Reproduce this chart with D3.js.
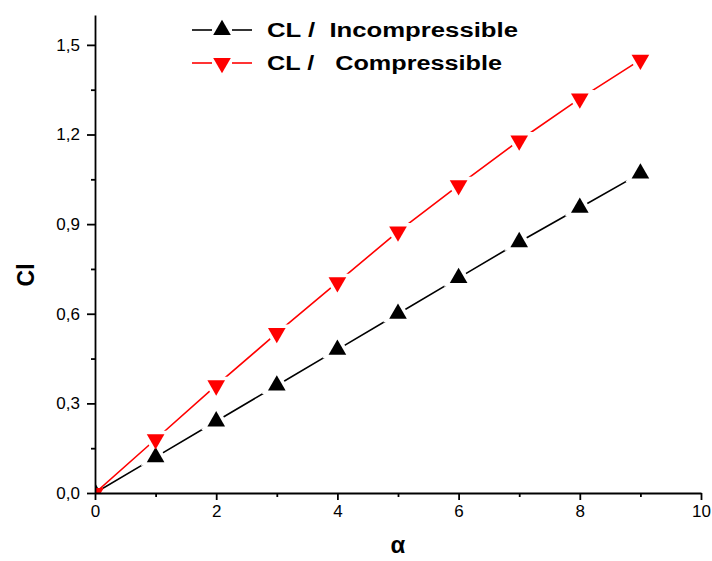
<!DOCTYPE html>
<html>
<head>
<meta charset="utf-8">
<script src="https://cdn.jsdelivr.net/npm/d3@7"></script>
<style>
  body { margin: 0; background: #fff; }
  svg { display: block; font-family: "Liberation Sans", Arial, sans-serif; }
  .axis path, .axis line { stroke: #000; stroke-width: 1.8; }
  .axis text { font-size: 17px; fill: #000; }
</style>
</head>
<body>
<svg width="712" height="561"></svg>
<script>
// values
var alpha = [0, 1, 2, 3, 4, 5, 6, 7, 8, 9];
var incompressible = [0, 0.12, 0.24, 0.36, 0.48, 0.60, 0.72, 0.84, 0.955, 1.07];
var compressible = [0, 0.18, 0.36, 0.535, 0.705, 0.875, 1.03, 1.18, 1.32, 1.45];
var seriesNames = ["CL /  Incompressible", "CL /   Compressible"];
var xTicks = [0, 2, 4, 6, 8, 10];
var yTicks = [0, 0.3, 0.6, 0.9, 1.2, 1.5];

var svg = d3.select("svg");
var margin = {left: 95, right: 11, top: 15, bottom: 68};
var x = d3.scaleLinear().domain([0, 10]).range([margin.left, 712 - margin.right]);
var y = d3.scaleLinear().domain([0, 1.6]).range([561 - margin.bottom, margin.top]);

var fmt = function(d) { return d3.format(".1f")(d).replace(".", ","); };

// series (drawn first so the axes sit on top)
svg.append("clipPath").attr("id", "plot")
    .append("rect")
    .attr("x", x(0)).attr("y", 0)
    .attr("width", x(10) - x(0)).attr("height", y(0));

var plot = svg.append("g").attr("clip-path", "url(#plot)");
var tri = d3.symbol().type(d3.symbolTriangle).size(135);

var series = [
    {name: seriesNames[0], values: incompressible, color: "#000", rot: 0},
    {name: seriesNames[1], values: compressible, color: "#ff0000", rot: 180}
];

var line = d3.line()
    .x(function(d) { return x(d[0]); })
    .y(function(d) { return y(d[1]); });

series.forEach(function(s) {
    plot.append("path")
        .datum(d3.zip(alpha, s.values))
        .attr("fill", "none")
        .attr("stroke", s.color)
        .attr("stroke-width", 1.6)
        .attr("d", line);
});

function place(s) {
    return function(d) { return "translate(" + x(d[0]) + "," + y(d[1]) + ") rotate(" + s.rot + ")"; };
}

// white halos cut small gaps in the lines around each marker
series.forEach(function(s) {
    plot.selectAll(null)
        .data(d3.zip(alpha, s.values).slice(1))
        .enter().append("path")
        .attr("transform", place(s))
        .attr("d", tri)
        .attr("fill", "#fff")
        .attr("stroke", "#fff")
        .attr("stroke-width", 7);
});
series.forEach(function(s) {
    plot.selectAll(null)
        .data(d3.zip(alpha, s.values))
        .enter().append("path")
        .attr("transform", place(s))
        .attr("d", tri)
        .attr("fill", s.color);
});

// minor ticks first, then major ticks with labels
svg.append("g")
    .attr("class", "axis")
    .attr("transform", "translate(0," + y(0) + ")")
    .call(d3.axisBottom(x).tickValues(d3.range(1, 10, 2)).tickSize(4).tickFormat(""))
    .select(".domain").remove();
svg.append("g")
    .attr("class", "axis")
    .attr("transform", "translate(0," + y(0) + ")")
    .call(d3.axisBottom(x).tickValues(xTicks).tickSize(7).tickSizeOuter(0).tickPadding(5));

svg.append("g")
    .attr("class", "axis")
    .attr("transform", "translate(" + x(0) + ",0)")
    .call(d3.axisLeft(y).tickValues(d3.range(0.15, 1.6, 0.3)).tickSize(4).tickFormat(""))
    .select(".domain").remove();
svg.append("g")
    .attr("class", "axis")
    .attr("transform", "translate(" + x(0) + ",0)")
    .call(d3.axisLeft(y).tickValues(yTicks).tickSize(8).tickSizeOuter(0).tickPadding(7).tickFormat(fmt));

// axis titles
svg.append("text")
    .attr("transform", "translate(34," + y(0.73) + ") rotate(-90)")
    .attr("text-anchor", "middle")
    .attr("font-size", 23)
    .attr("font-weight", "bold")
    .text("Cl");
svg.append("text")
    .attr("x", x(5)).attr("y", 553)
    .attr("text-anchor", "middle")
    .attr("font-size", 24)
    .attr("font-weight", "bold")
    .text("α");

// legend
var legendLen = [251, 235];
var legend = svg.append("g");
series.forEach(function(s, i) {
    var ly = 30 + i * 33;
    var row = legend.append("g").attr("transform", "translate(0," + ly + ")");
    row.append("line").attr("x1", 192).attr("x2", 212).attr("y1", 0).attr("y2", 0)
        .attr("stroke", s.color).attr("stroke-width", 1.6);
    row.append("line").attr("x1", 232).attr("x2", 252).attr("y1", 0).attr("y2", 0)
        .attr("stroke", s.color).attr("stroke-width", 1.6);
    row.append("path")
        .attr("transform", "translate(222,0) rotate(" + s.rot + ")")
        .attr("d", tri)
        .attr("fill", s.color);
    row.append("text")
        .attr("x", 267).attr("y", 7)
        .attr("font-size", 20)
        .attr("font-weight", "bold")
        .style("white-space", "pre")
        .attr("textLength", legendLen[i])
        .attr("lengthAdjust", "spacingAndGlyphs")
        .text(s.name);
});
</script>
</body>
</html>
